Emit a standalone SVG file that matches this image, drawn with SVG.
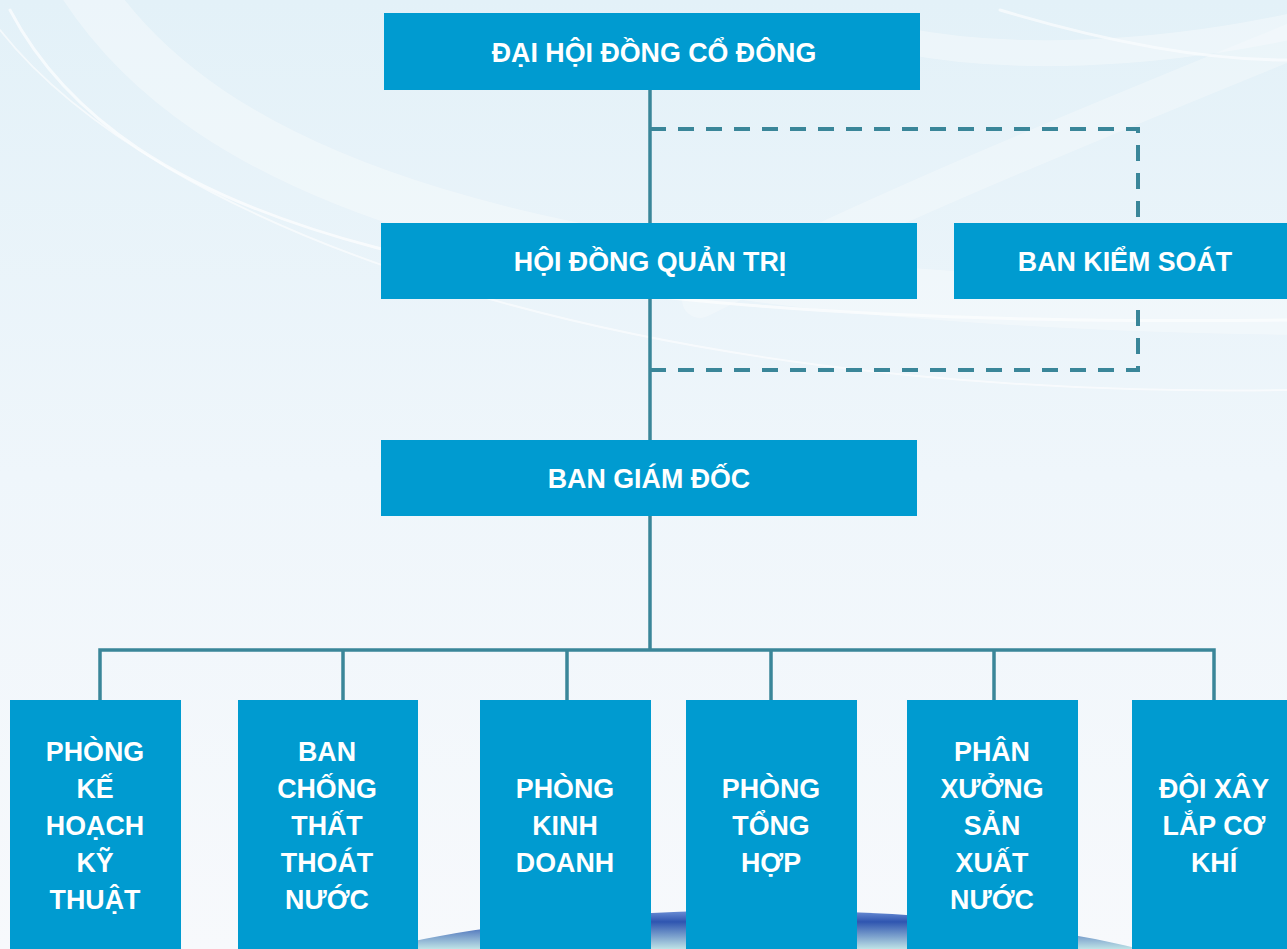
<svg xmlns="http://www.w3.org/2000/svg" width="1287" height="949" viewBox="0 0 1287 949">
<defs>
<linearGradient id="bg" x1="0" y1="0" x2="0" y2="1">
<stop offset="0" stop-color="#e3f1f8"/>
<stop offset="0.5" stop-color="#eff6fb"/>
<stop offset="1" stop-color="#f7f9fc"/>
</linearGradient>
<linearGradient id="globe" x1="0" y1="0" x2="0" y2="1">
<stop offset="0" stop-color="#6f92d8"/>
<stop offset="0.3" stop-color="#2f55b0"/>
<stop offset="1" stop-color="#bfe3e6"/>
</linearGradient>
<style>
.box{fill:#009bd0;}
.t{font-family:"Liberation Sans",Arial,sans-serif;font-weight:bold;font-size:26.8px;fill:#ffffff;text-anchor:middle;}
.ln{stroke:#3a8699;stroke-width:3.5;fill:none;}
.dash{stroke:#3a8699;stroke-width:4;fill:none;stroke-dasharray:16 12;}
.sw{fill:none;stroke:#ffffff;stroke-linecap:round;}
</style>
</defs>
<rect x="0" y="0" width="1287" height="949" fill="url(#bg)"/>
<g id="background-swooshes" opacity="0.85">
<path class="sw" d="M10 10 C 120 220, 450 330, 1287 320" stroke-width="3" opacity="0.8"/>
<path class="sw" d="M80 -20 C 200 170, 500 300, 1300 310" stroke-width="50" opacity="0.4"/>
<path class="sw" d="M0 30 C 150 220, 600 400, 1287 390" stroke-width="2" opacity="0.7"/>
<path class="sw" d="M700 300 C 900 200, 1100 120, 1320 30" stroke-width="36" opacity="0.35"/>
<path class="sw" d="M900 40 C 1000 60, 1150 60, 1320 20" stroke-width="26" opacity="0.4"/>
<path class="sw" d="M1000 10 C 1100 40, 1200 60, 1287 60" stroke-width="3" opacity="0.7"/>
</g>
<path id="globe-shape" d="M380 949 C 550 905, 900 890, 1140 949 Z" fill="url(#globe)"/>
<g id="connectors">
<line class="ln" x1="650" y1="90" x2="650" y2="223"/>
<line class="ln" x1="650" y1="299" x2="650" y2="440"/>
<line class="ln" x1="650" y1="516" x2="650" y2="650"/>
<path class="dash" d="M650 129 H1138 V223"/>
<path class="dash" d="M650 370 H1138 V299"/>
<path class="ln" d="M100 700 V650 H1214 V700"/>
<line class="ln" x1="343" y1="650" x2="343" y2="700"/>
<line class="ln" x1="567" y1="650" x2="567" y2="700"/>
<line class="ln" x1="771" y1="650" x2="771" y2="700"/>
<line class="ln" x1="994" y1="650" x2="994" y2="700"/>
</g>
<g id="dai-hoi-dong-co-dong">
<rect class="box" x="384" y="13" width="536" height="77"/>
<text class="t" x="654" y="62">ĐẠI HỘI ĐỒNG CỔ ĐÔNG</text>
</g>
<g id="hoi-dong-quan-tri">
<rect class="box" x="381" y="223" width="536" height="76"/>
<text class="t" x="650" y="271">HỘI ĐỒNG QUẢN TRỊ</text>
</g>
<g id="ban-kiem-soat">
<rect class="box" x="954" y="223" width="340" height="76"/>
<text class="t" x="1125" y="271">BAN KIỂM SOÁT</text>
</g>
<g id="ban-giam-doc">
<rect class="box" x="381" y="440" width="536" height="76"/>
<text class="t" x="649" y="488">BAN GIÁM ĐỐC</text>
</g>
<g id="phong-ke-hoach-ky-thuat">
<rect class="box" x="10" y="700" width="171" height="260"/>
<text class="t" x="95" y="761">PHÒNG</text>
<text class="t" x="95" y="798">KẾ</text>
<text class="t" x="95" y="835">HOẠCH</text>
<text class="t" x="95" y="872">KỸ</text>
<text class="t" x="95" y="909">THUẬT</text>
</g>
<g id="ban-chong-that-thoat-nuoc">
<rect class="box" x="238" y="700" width="180" height="260"/>
<text class="t" x="327" y="761">BAN</text>
<text class="t" x="327" y="798">CHỐNG</text>
<text class="t" x="327" y="835">THẤT</text>
<text class="t" x="327" y="872">THOÁT</text>
<text class="t" x="327" y="909">NƯỚC</text>
</g>
<g id="phong-kinh-doanh">
<rect class="box" x="480" y="700" width="171" height="260"/>
<text class="t" x="565" y="798">PHÒNG</text>
<text class="t" x="565" y="835">KINH</text>
<text class="t" x="565" y="872">DOANH</text>
</g>
<g id="phong-tong-hop">
<rect class="box" x="686" y="700" width="171" height="260"/>
<text class="t" x="771" y="798">PHÒNG</text>
<text class="t" x="771" y="835">TỔNG</text>
<text class="t" x="771" y="872">HỢP</text>
</g>
<g id="phan-xuong-san-xuat-nuoc">
<rect class="box" x="907" y="700" width="171" height="260"/>
<text class="t" x="992" y="761">PHÂN</text>
<text class="t" x="992" y="798">XƯỞNG</text>
<text class="t" x="992" y="835">SẢN</text>
<text class="t" x="992" y="872">XUẤT</text>
<text class="t" x="992" y="909">NƯỚC</text>
</g>
<g id="doi-xay-lap-co-khi">
<rect class="box" x="1132" y="700" width="165" height="260"/>
<text class="t" x="1214" y="798">ĐỘI XÂY</text>
<text class="t" x="1214" y="835">LẮP CƠ</text>
<text class="t" x="1214" y="872">KHÍ</text>
</g>
</svg>
